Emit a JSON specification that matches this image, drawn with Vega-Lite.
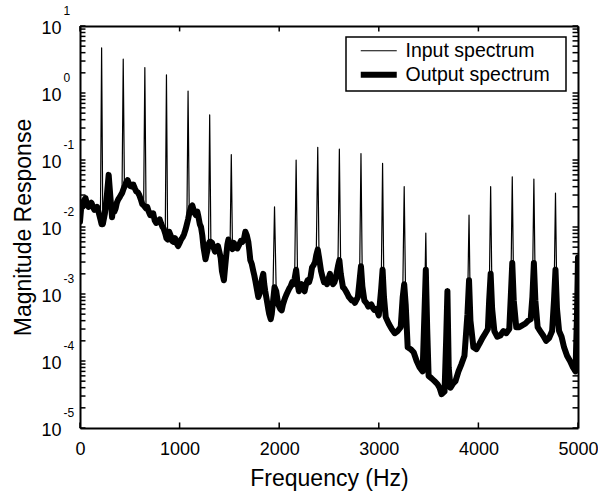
{
"$schema": "https://vega.github.io/schema/vega-lite/v6.json",
"width": 498, "height": 402,
"autosize": "none",
"padding": {"left": 80, "top": 26, "right": 20, "bottom": 66},
"background": "white",
"config": {
 "view": {"stroke": null},
 "font": "Liberation Sans",
 "axis": {"domainColor": "black", "domainWidth": 2, "labelColor": "black", "titleColor": "black", "labelFont": "Liberation Sans", "titleFont": "Liberation Sans", "titleFontWeight": "normal", "labelOverlap": false, "labelFlush": false, "grid": false},
 "legend": {"strokeWidth": 1.5}
},
"datasets": {
 "yticks": [{"tick":0.00001},{"tick":0.00002},{"tick":0.00003},{"tick":0.00004},{"tick":0.00005},{"tick":0.00006},{"tick":0.00007},{"tick":0.00008},{"tick":0.00009},{"tick":0.0001},{"tick":0.0002},{"tick":0.0003},{"tick":0.0004},{"tick":0.0005},{"tick":0.0006},{"tick":0.0007},{"tick":0.0008},{"tick":0.0009},{"tick":0.001},{"tick":0.002},{"tick":0.003},{"tick":0.004},{"tick":0.005},{"tick":0.006},{"tick":0.007},{"tick":0.008},{"tick":0.009},{"tick":0.01},{"tick":0.02},{"tick":0.03},{"tick":0.04},{"tick":0.05},{"tick":0.06},{"tick":0.07},{"tick":0.08},{"tick":0.09},{"tick":0.1},{"tick":0.2},{"tick":0.3},{"tick":0.4},{"tick":0.5},{"tick":0.6},{"tick":0.7},{"tick":0.8},{"tick":0.9},{"tick":1},{"tick":2},{"tick":3},{"tick":4},{"tick":5},{"tick":6},{"tick":7},{"tick":8},{"tick":9},{"tick":10}],
 "xticks": [{"tick":0},{"tick":1000},{"tick":2000},{"tick":3000},{"tick":4000},{"tick":5000}]
},
"data": {"values": [
{"f":0,"input":0.012,"output":0.012},
{"f":15,"input":0.022,"output":0.022},
{"f":28,"input":0.02,"output":0.02},
{"f":40,"input":0.025,"output":0.025},
{"f":55,"input":0.027,"output":0.027},
{"f":70,"input":0.022,"output":0.022},
{"f":85,"input":0.02,"output":0.02},
{"f":100,"input":0.021,"output":0.021},
{"f":115,"input":0.023,"output":0.023},
{"f":130,"input":0.02,"output":0.02},
{"f":145,"input":0.018,"output":0.018},
{"f":160,"input":0.019,"output":0.019},
{"f":172,"input":0.02,"output":0.02},
{"f":185,"input":0.017,"output":0.017},
{"f":205,"input":0.013,"output":0.013},
{"f":217,"input":4.7,"output":0.011},
{"f":229,"input":0.011,"output":0.011},
{"f":250,"input":0.016,"output":0.016},
{"f":270,"input":0.03,"output":0.03},
{"f":288,"input":0.06,"output":0.06},
{"f":305,"input":0.028,"output":0.028},
{"f":322,"input":0.014,"output":0.014},
{"f":333,"input":0.02,"output":0.02},
{"f":345,"input":0.017,"output":0.017},
{"f":358,"input":0.019,"output":0.019},
{"f":370,"input":0.023,"output":0.023},
{"f":385,"input":0.026,"output":0.026},
{"f":400,"input":0.028,"output":0.028},
{"f":410,"input":0.03,"output":0.03},
{"f":422,"input":0.032,"output":0.032},
{"f":434,"input":3.2,"output":0.036},
{"f":446,"input":0.04,"output":0.04},
{"f":455,"input":0.042,"output":0.042},
{"f":465,"input":0.047,"output":0.047},
{"f":478,"input":0.05,"output":0.05},
{"f":490,"input":0.045,"output":0.045},
{"f":505,"input":0.041,"output":0.041},
{"f":520,"input":0.04,"output":0.04},
{"f":535,"input":0.043,"output":0.043},
{"f":550,"input":0.038,"output":0.038},
{"f":565,"input":0.034,"output":0.034},
{"f":580,"input":0.033,"output":0.033},
{"f":595,"input":0.03,"output":0.03},
{"f":610,"input":0.026,"output":0.026},
{"f":625,"input":0.022,"output":0.022},
{"f":639,"input":0.021,"output":0.021},
{"f":651,"input":2.4,"output":0.02},
{"f":663,"input":0.019,"output":0.019},
{"f":675,"input":0.02,"output":0.02},
{"f":690,"input":0.017,"output":0.017},
{"f":705,"input":0.015,"output":0.015},
{"f":720,"input":0.015,"output":0.015},
{"f":735,"input":0.016,"output":0.016},
{"f":750,"input":0.0125,"output":0.0125},
{"f":765,"input":0.0115,"output":0.0115},
{"f":780,"input":0.012,"output":0.012},
{"f":800,"input":0.013,"output":0.013},
{"f":815,"input":0.0112,"output":0.0112},
{"f":828,"input":0.01,"output":0.01},
{"f":840,"input":0.0095,"output":0.0095},
{"f":856,"input":0.008,"output":0.008},
{"f":868,"input":1.86,"output":0.0068},
{"f":880,"input":0.0065,"output":0.0065},
{"f":895,"input":0.0085,"output":0.0085},
{"f":910,"input":0.0075,"output":0.0075},
{"f":925,"input":0.0062,"output":0.0062},
{"f":940,"input":0.006,"output":0.006},
{"f":955,"input":0.0068,"output":0.0068},
{"f":970,"input":0.0057,"output":0.0057},
{"f":985,"input":0.0052,"output":0.0052},
{"f":1000,"input":0.0058,"output":0.0058},
{"f":1015,"input":0.0065,"output":0.0065},
{"f":1030,"input":0.007,"output":0.007},
{"f":1045,"input":0.0078,"output":0.0078},
{"f":1060,"input":0.0092,"output":0.0092},
{"f":1073,"input":0.011,"output":0.011},
{"f":1085,"input":1.07,"output":0.013},
{"f":1097,"input":0.016,"output":0.016},
{"f":1115,"input":0.02,"output":0.02},
{"f":1128,"input":0.021,"output":0.021},
{"f":1140,"input":0.018,"output":0.018},
{"f":1152,"input":0.016,"output":0.016},
{"f":1165,"input":0.015,"output":0.015},
{"f":1178,"input":0.017,"output":0.017},
{"f":1190,"input":0.014,"output":0.014},
{"f":1203,"input":0.011,"output":0.011},
{"f":1215,"input":0.01,"output":0.01},
{"f":1228,"input":0.0075,"output":0.0075},
{"f":1240,"input":0.005,"output":0.005},
{"f":1260,"input":0.0033,"output":0.0033},
{"f":1280,"input":0.0045,"output":0.0045},
{"f":1290,"input":0.0055,"output":0.0055},
{"f":1302,"input":0.47,"output":0.006},
{"f":1314,"input":0.006,"output":0.006},
{"f":1325,"input":0.0058,"output":0.0058},
{"f":1340,"input":0.005,"output":0.005},
{"f":1355,"input":0.0043,"output":0.0043},
{"f":1370,"input":0.0048,"output":0.0048},
{"f":1385,"input":0.0052,"output":0.0052},
{"f":1400,"input":0.0042,"output":0.0042},
{"f":1412,"input":0.0035,"output":0.0035},
{"f":1425,"input":0.0022,"output":0.0022},
{"f":1445,"input":0.0016,"output":0.0016},
{"f":1457,"input":0.0025,"output":0.0025},
{"f":1470,"input":0.004,"output":0.004},
{"f":1480,"input":0.0055,"output":0.0055},
{"f":1490,"input":0.0065,"output":0.0065},
{"f":1507,"input":0.0055,"output":0.0055},
{"f":1519,"input":0.12,"output":0.005},
{"f":1531,"input":0.0047,"output":0.0047},
{"f":1545,"input":0.0058,"output":0.0058},
{"f":1560,"input":0.005,"output":0.005},
{"f":1580,"input":0.0048,"output":0.0048},
{"f":1600,"input":0.0055,"output":0.0055},
{"f":1615,"input":0.0062,"output":0.0062},
{"f":1630,"input":0.006,"output":0.006},
{"f":1645,"input":0.0065,"output":0.0065},
{"f":1660,"input":0.0085,"output":0.0085},
{"f":1675,"input":0.0075,"output":0.0075},
{"f":1690,"input":0.006,"output":0.006},
{"f":1700,"input":0.0045,"output":0.0045},
{"f":1710,"input":0.0032,"output":0.0032},
{"f":1725,"input":0.0028,"output":0.0028},
{"f":1740,"input":0.0022,"output":0.0022},
{"f":1750,"input":0.0019,"output":0.0019},
{"f":1760,"input":0.0016,"output":0.0016},
{"f":1775,"input":0.0012,"output":0.0012},
{"f":1790,"input":0.0009,"output":0.0009},
{"f":1802,"input":0.001,"output":0.001},
{"f":1815,"input":0.0013,"output":0.0013},
{"f":1828,"input":0.0017,"output":0.0017},
{"f":1840,"input":0.002,"output":0.002},
{"f":1850,"input":0.0014,"output":0.0014},
{"f":1860,"input":0.0011,"output":0.0011},
{"f":1870,"input":0.0009,"output":0.0009},
{"f":1880,"input":0.00074,"output":0.00074},
{"f":1890,"input":0.0006,"output":0.0006},
{"f":1900,"input":0.0005,"output":0.0005},
{"f":1915,"input":0.00042,"output":0.00042},
{"f":1925,"input":0.0005,"output":0.0005},
{"f":1935,"input":0.0007,"output":0.0007},
{"f":1953,"input":0.02,"output":0.00126},
{"f":1970,"input":0.0011,"output":0.0011},
{"f":1990,"input":0.0007,"output":0.0007},
{"f":2010,"input":0.0006,"output":0.0006},
{"f":2025,"input":0.00057,"output":0.00057},
{"f":2038,"input":0.0007,"output":0.0007},
{"f":2050,"input":0.0008,"output":0.0008},
{"f":2062,"input":0.0009,"output":0.0009},
{"f":2075,"input":0.001,"output":0.001},
{"f":2088,"input":0.0011,"output":0.0011},
{"f":2100,"input":0.0012,"output":0.0012},
{"f":2115,"input":0.0013,"output":0.0013},
{"f":2130,"input":0.0015,"output":0.0015},
{"f":2142,"input":0.0014,"output":0.0014},
{"f":2155,"input":0.0017,"output":0.0017},
{"f":2170,"input":0.1,"output":0.0023},
{"f":2185,"input":0.0014,"output":0.0014},
{"f":2198,"input":0.0011,"output":0.0011},
{"f":2210,"input":0.00126,"output":0.00126},
{"f":2225,"input":0.0014,"output":0.0014},
{"f":2240,"input":0.0012,"output":0.0012},
{"f":2255,"input":0.0011,"output":0.0011},
{"f":2270,"input":0.0014,"output":0.0014},
{"f":2285,"input":0.0016,"output":0.0016},
{"f":2300,"input":0.0015,"output":0.0015},
{"f":2315,"input":0.0018,"output":0.0018},
{"f":2330,"input":0.0025,"output":0.0025},
{"f":2345,"input":0.0027,"output":0.0027},
{"f":2360,"input":0.003,"output":0.003},
{"f":2372,"input":0.0038,"output":0.0038},
{"f":2387,"input":0.155,"output":0.0046},
{"f":2400,"input":0.0035,"output":0.0035},
{"f":2420,"input":0.0022,"output":0.0022},
{"f":2435,"input":0.0018,"output":0.0018},
{"f":2450,"input":0.0015,"output":0.0015},
{"f":2465,"input":0.0016,"output":0.0016},
{"f":2480,"input":0.0014,"output":0.0014},
{"f":2495,"input":0.0017,"output":0.0017},
{"f":2510,"input":0.002,"output":0.002},
{"f":2525,"input":0.0016,"output":0.0016},
{"f":2540,"input":0.0014,"output":0.0014},
{"f":2555,"input":0.0015,"output":0.0015},
{"f":2570,"input":0.0018,"output":0.0018},
{"f":2590,"input":0.0026,"output":0.0026},
{"f":2604,"input":0.145,"output":0.0032},
{"f":2618,"input":0.002,"output":0.002},
{"f":2640,"input":0.00126,"output":0.00126},
{"f":2655,"input":0.0012,"output":0.0012},
{"f":2670,"input":0.0011,"output":0.0011},
{"f":2685,"input":0.001,"output":0.001},
{"f":2700,"input":0.0009,"output":0.0009},
{"f":2715,"input":0.00085,"output":0.00085},
{"f":2730,"input":0.0008,"output":0.0008},
{"f":2745,"input":0.0008,"output":0.0008},
{"f":2760,"input":0.00074,"output":0.00074},
{"f":2790,"input":0.0009,"output":0.0009},
{"f":2807,"input":0.0016,"output":0.0016},
{"f":2821,"input":0.125,"output":0.0026},
{"f":2835,"input":0.0013,"output":0.0013},
{"f":2855,"input":0.0008,"output":0.0008},
{"f":2880,"input":0.00072,"output":0.00072},
{"f":2895,"input":0.00065,"output":0.00065},
{"f":2910,"input":0.00068,"output":0.00068},
{"f":2925,"input":0.0007,"output":0.0007},
{"f":2940,"input":0.00062,"output":0.00062},
{"f":2955,"input":0.00058,"output":0.00058},
{"f":2970,"input":0.0006,"output":0.0006},
{"f":2985,"input":0.00055,"output":0.00055},
{"f":3000,"input":0.00048,"output":0.00048},
{"f":3024,"input":0.0012,"output":0.0012},
{"f":3038,"input":0.089,"output":0.0023},
{"f":3052,"input":0.0009,"output":0.0009},
{"f":3070,"input":0.00045,"output":0.00045},
{"f":3100,"input":0.00036,"output":0.00036},
{"f":3130,"input":0.0003,"output":0.0003},
{"f":3160,"input":0.00026,"output":0.00026},
{"f":3190,"input":0.00028,"output":0.00028},
{"f":3220,"input":0.00032,"output":0.00032},
{"f":3240,"input":0.0009,"output":0.0009},
{"f":3255,"input":0.04,"output":0.0014},
{"f":3270,"input":0.0007,"output":0.0007},
{"f":3290,"input":0.00016,"output":0.00016},
{"f":3320,"input":0.00015,"output":0.00015},
{"f":3350,"input":0.000135,"output":0.000135},
{"f":3380,"input":0.0001,"output":0.0001},
{"f":3410,"input":0.00008,"output":0.00008},
{"f":3440,"input":0.00007,"output":0.00007},
{"f":3458,"input":0.0005,"output":0.0005},
{"f":3472,"input":0.0081,"output":0.0023},
{"f":3486,"input":0.0003,"output":0.0003},
{"f":3500,"input":0.00006,"output":0.00006},
{"f":3530,"input":0.000055,"output":0.000055},
{"f":3560,"input":0.00005,"output":0.00005},
{"f":3590,"input":0.000045,"output":0.000045},
{"f":3610,"input":0.00004,"output":0.00004},
{"f":3630,"input":0.000032,"output":0.000032},
{"f":3660,"input":0.000035,"output":0.000035},
{"f":3676,"input":0.0002,"output":0.0002},
{"f":3689,"input":0.0012,"output":0.0011},
{"f":3702,"input":0.00008,"output":0.00008},
{"f":3720,"input":0.00004,"output":0.00004},
{"f":3745,"input":0.000046,"output":0.000046},
{"f":3770,"input":0.00005,"output":0.00005},
{"f":3800,"input":0.00007,"output":0.00007},
{"f":3830,"input":0.00009,"output":0.00009},
{"f":3860,"input":0.00012,"output":0.00012},
{"f":3890,"input":0.0005,"output":0.0005},
{"f":3906,"input":0.015,"output":0.0016},
{"f":3920,"input":0.0004,"output":0.0004},
{"f":3950,"input":0.00016,"output":0.00016},
{"f":3980,"input":0.00015,"output":0.00015},
{"f":4010,"input":0.00018,"output":0.00018},
{"f":4040,"input":0.00022,"output":0.00022},
{"f":4070,"input":0.00026,"output":0.00026},
{"f":4095,"input":0.0003,"output":0.0003},
{"f":4108,"input":0.0008,"output":0.0008},
{"f":4123,"input":0.04,"output":0.002},
{"f":4138,"input":0.0006,"output":0.0006},
{"f":4160,"input":0.00028,"output":0.00028},
{"f":4190,"input":0.00023,"output":0.00023},
{"f":4220,"input":0.00024,"output":0.00024},
{"f":4250,"input":0.00028,"output":0.00028},
{"f":4280,"input":0.00026,"output":0.00026},
{"f":4310,"input":0.0003,"output":0.0003},
{"f":4325,"input":0.0009,"output":0.0009},
{"f":4340,"input":0.056,"output":0.0029},
{"f":4355,"input":0.0008,"output":0.0008},
{"f":4380,"input":0.00032,"output":0.00032},
{"f":4410,"input":0.00032,"output":0.00032},
{"f":4440,"input":0.00034,"output":0.00034},
{"f":4470,"input":0.00036,"output":0.00036},
{"f":4500,"input":0.0004,"output":0.0004},
{"f":4525,"input":0.00042,"output":0.00042},
{"f":4542,"input":0.0009,"output":0.0009},
{"f":4557,"input":0.052,"output":0.0029},
{"f":4572,"input":0.0008,"output":0.0008},
{"f":4595,"input":0.00032,"output":0.00032},
{"f":4620,"input":0.00028,"output":0.00028},
{"f":4650,"input":0.00024,"output":0.00024},
{"f":4680,"input":0.0002,"output":0.0002},
{"f":4710,"input":0.00022,"output":0.00022},
{"f":4740,"input":0.00028,"output":0.00028},
{"f":4759,"input":0.0008,"output":0.0008},
{"f":4774,"input":0.032,"output":0.0023},
{"f":4789,"input":0.0006,"output":0.0006},
{"f":4810,"input":0.00028,"output":0.00028},
{"f":4835,"input":0.00023,"output":0.00023},
{"f":4860,"input":0.00016,"output":0.00016},
{"f":4890,"input":0.00012,"output":0.00012},
{"f":4920,"input":0.0001,"output":0.0001},
{"f":4950,"input":0.00008,"output":0.00008},
{"f":4975,"input":0.00007,"output":0.00007},
{"f":4990,"input":0.0003,"output":0.0005},
{"f":5000,"input":0.003,"output":0.0035}
]},
"layer": [
 {
  "transform": [{"fold": ["input", "output"], "as": ["series", "value"]}],
  "mark": {"type": "line", "color": "black", "clip": true, "strokeJoin": "round", "strokeCap": "round"},
  "encoding": {
   "x": {"field": "f", "type": "quantitative", "scale": {"domain": [0, 5000], "nice": false, "zero": false},
     "axis": {"orient": "bottom", "values": [0, 1000, 2000, 3000, 4000, 5000], "format": "d", "ticks": false, "tickSize": 0, "labelPadding": 12, "labelFontSize": 18, "title": "Frequency (Hz)", "titleFontSize": 23, "titleX": 249, "titleY": 57, "titleBaseline": "alphabetic"}},
   "y": {"field": "value", "type": "quantitative", "scale": {"type": "log", "domain": [0.00001, 10], "nice": false},
     "axis": {"orient": "left", "values": [0.00001, 0.0001, 0.001, 0.01, 0.1, 1, 10],
       "labelExpr": "'10'", "ticks": false, "tickSize": 0, "labelPadding": 19, "labelFontSize": 18, "labelOffset": 2,
       "title": "Magnitude Response", "titleFontSize": 23, "titleX": -50, "titleY": 201, "titleBaseline": "alphabetic"}},
   "strokeWidth": {"field": "series", "type": "nominal", "scale": {"domain": ["input", "output"], "range": [1.2, 6]},
     "legend": {"orient": "none", "legendX": 266, "legendY": 11, "title": "\u00a0", "titleOrient": "right", "titlePadding": 12, "titleFontSize": 10, "strokeColor": "black", "padding": 4, "symbolType": "M-3,0H3", "symbolSize": 144, "symbolOffset": 19, "symbolStrokeColor": "black", "labelFontSize": 19.5, "labelFont": "Liberation Sans", "labelColor": "black", "labelOffset": 17, "rowPadding": 1, "labelExpr": "datum.label == 'input' ? 'Input spectrum' : 'Output spectrum'"}}
  }
 },
 {
  "transform": [{"fold": ["input", "output"], "as": ["series", "value"]}],
  "mark": {"type": "line", "opacity": 0},
  "encoding": {
   "x": {"field": "f", "type": "quantitative", "axis": {"orient": "top", "ticks": false, "labels": false, "title": null}},
   "y": {"field": "value", "type": "quantitative", "axis": {"orient": "right", "ticks": false, "labels": false, "title": null}}
  }
 },
 {
  "transform": [{"fold": ["input", "output"], "as": ["series", "value"]}],
  "mark": {"type": "line", "opacity": 0},
  "encoding": {
   "x": {"field": "f", "type": "quantitative", "axis": null},
   "y": {"field": "value", "type": "quantitative", "axis": {"orient": "left", "values": [0.00001, 0.0001, 0.001, 0.01, 0.1, 1, 10], "labelExpr": "'' + round(log(datum.value)/LN10)", "ticks": false, "tickSize": 0, "domain": false, "labelAlign": "left", "labelBaseline": "middle", "labelPadding": 17, "labelFontSize": 12, "labelOffset": -16, "title": null}}
  }
 },
 {
  "data": {"name": "yticks"},
  "mark": {"type": "rule", "color": "black", "strokeWidth": 1.5},
  "encoding": {
   "y": {"field": "tick", "type": "quantitative", "axis": null},
   "x": {"datum": 0, "type": "quantitative", "axis": null},
   "x2": {"datum": 55}
  }
 },
 {
  "data": {"name": "yticks"},
  "mark": {"type": "rule", "color": "black", "strokeWidth": 1.5},
  "encoding": {
   "y": {"field": "tick", "type": "quantitative", "axis": null},
   "x": {"datum": 4945, "type": "quantitative", "axis": null},
   "x2": {"datum": 5000}
  }
 },
 {
  "data": {"name": "xticks"},
  "mark": {"type": "rule", "color": "black", "strokeWidth": 1.5},
  "encoding": {
   "x": {"field": "tick", "type": "quantitative", "axis": null},
   "y": {"datum": 0.00001, "type": "quantitative", "axis": null},
   "y2": {"datum": 0.0000121}
  }
 },
 {
  "data": {"name": "xticks"},
  "mark": {"type": "rule", "color": "black", "strokeWidth": 1.5},
  "encoding": {
   "x": {"field": "tick", "type": "quantitative", "axis": null},
   "y": {"datum": 8.3, "type": "quantitative", "axis": null},
   "y2": {"datum": 10}
  }
 }
],
"resolve": {"axis": {"x": "independent", "y": "independent"}}
}
